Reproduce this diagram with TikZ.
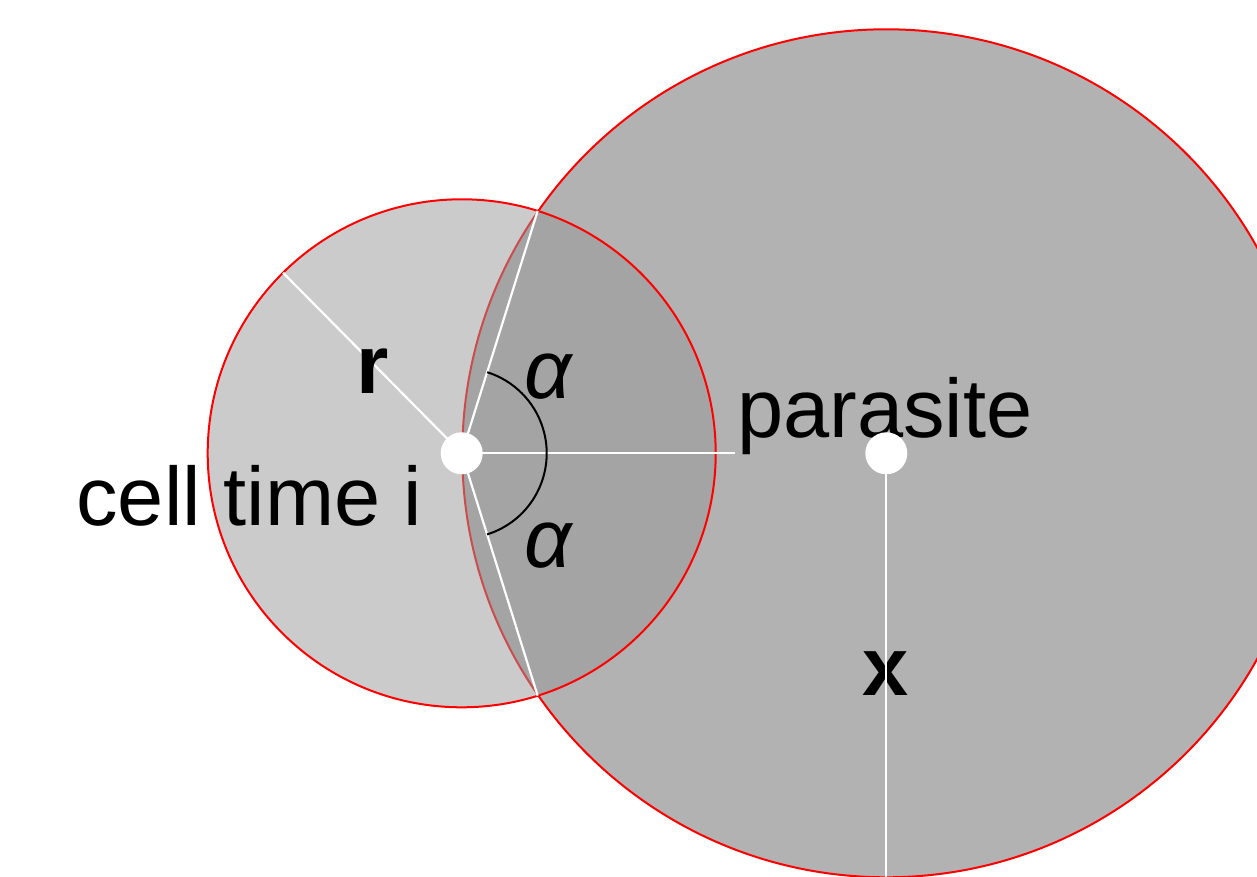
\documentclass[tikz,border=0pt]{standalone}
\usepackage{fontspec}
\setmainfont{Liberation Sans}
\usetikzlibrary{calc}
\definecolor{bigc}{RGB}{178,178,178}
\definecolor{smallc}{RGB}{152,152,152}
\tikzset{
  outline/.style={draw=red, line width=1pt},
  wline/.style={draw=white, line width=1.1pt},
  dot/.style={circle, fill=white, minimum size=21pt, inner sep=0pt},
  lbl/.style={inner sep=0pt, font=\fontsize{41.5}{48}\selectfont},
}
\begin{document}
\begin{tikzpicture}[x=0.5pt,y=-0.5pt]
\useasboundingbox (0,0) rectangle (1257,877);
\clip (0,0) rectangle (1257,877);
\coordinate (C) at (461.7,453.3);
\coordinate (P) at (886.3,453.3);
% circles
\fill[bigc] (P) circle (424);
\draw[outline] (P) circle (424);
\fill[smallc, fill opacity=0.5] (C) circle (254);
\draw[outline] (C) circle (254);
% radius points (y axis points down)
\coordinate (Rr) at ($(C)+(-134.7:254)$);
\coordinate (Iu) at ($(C)+(-72.6:254)$);
\coordinate (Id) at ($(C)+(72.6:254)$);
\coordinate (Xb) at ($(P)+(0,424)$);
% labels under lines
\node[lbl, anchor=base] (xl) at (886,695) {\bfseries x};
% white lines
\draw[wline] (C) -- (Rr);
\draw[wline] (C) -- (Iu);
\draw[wline] (C) -- (Id);
\draw[wline] (C) -- (P);
\draw[wline] (P) -- (Xb);
% angle arc
\draw[black, line width=1pt] ($(C)+(72.6:85)$) arc[start angle=72.6, end angle=-72.6, radius=85];
% labels
\node[lbl, anchor=base] (rl) at (373,393) {\bfseries r};
\node[lbl, anchor=base] (a1) at (548,398) {\itshape α};
\node[lbl, anchor=base] (a2) at (548,567) {\itshape α};
\node[lbl, anchor=base west] (cl) at (76,525) {cell time i};
\node[lbl, anchor=base, fill=bigc, inner sep=1pt] (pl) at (885,437) {parasite};
% centre dots
\node[dot] (cd) at (C) {};
\node[dot] (pd) at (P) {};
\end{tikzpicture}
\end{document}
